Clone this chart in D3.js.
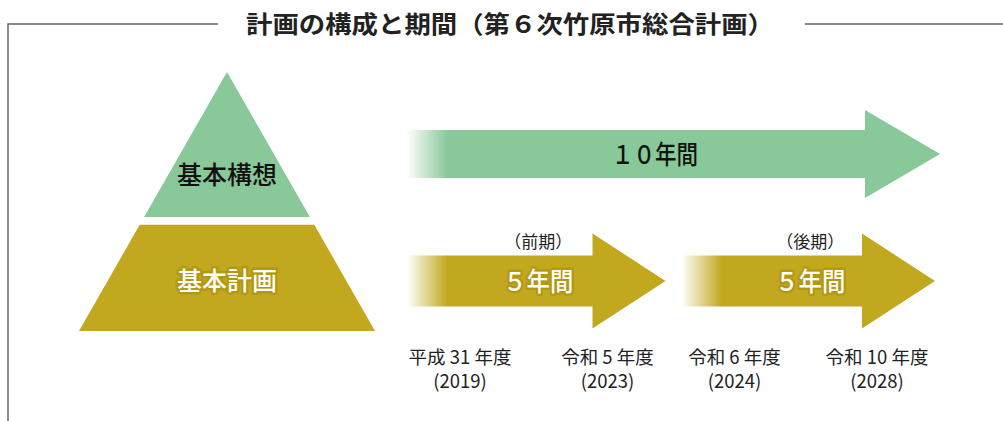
<!DOCTYPE html>
<html>
<head>
<meta charset="utf-8">
<script src="https://cdn.jsdelivr.net/npm/d3@7"></script>
<style>
  body { margin: 0; background: #fff; }
  text { font-family: "Noto Sans CJK JP", "Noto Sans", sans-serif; }
</style>
</head>
<body>
<div id="chart-area"></div>
<script>
// data
const title = "計画の構成と期間（第６次竹原市総合計画）"
const pyramidLabels = ["基本構想", "基本計画"]
const periodLabels = ["１０年間", "５年間", "５年間"]
const periodNotes = ["", "（前期）", "（後期）"]
const periodStart = [2019, 2019, 2024]
const periodEnd = [2029, 2024, 2029]
const yearTicks = [2019, 2023, 2024, 2028]
const yearNames = ["平成 31 年度", "令和 5 年度", "令和 6 年度", "令和 10 年度"]

const w = 1003
const h = 421
const green = "#88c899"
const gold = "#c2a81f"

const svg = d3.select("#chart-area")
  .append("svg")
  .attr("width", w)
  .attr("height", h)

const defs = svg.append("defs")
const fades = [["fadeGreen", green], ["fadeGold", gold]]
fades.forEach(f => {
  const g = defs.append("linearGradient").attr("id", f[0])
    .attr("x1", 0).attr("x2", 1).attr("y1", 0).attr("y2", 0)
  g.append("stop").attr("offset", 0).attr("stop-color", f[1]).attr("stop-opacity", 0)
  g.append("stop").attr("offset", 1).attr("stop-color", f[1]).attr("stop-opacity", 1)
})

// frame + title
svg.append("path")
  .attr("d", "M8,421 V24 H218 M805,24 H1003")
  .attr("fill", "none")
  .attr("stroke", "#666")
  .attr("stroke-width", 1.5)

svg.append("text")
  .attr("x", 510).attr("y", 33)
  .attr("text-anchor", "middle")
  .attr("font-size", 24)
  .attr("font-weight", "bold")
  .attr("fill", "#222")
  .attr("textLength", 528)
  .attr("lengthAdjust", "spacingAndGlyphs")
  .text(title)

// pyramid
const py = d3.scaleLinear().domain([0, 1]).range([72, 331])
const px = d3.scaleLinear().domain([0, 1]).range([0, 148])
const cx = 227
const cut1 = 0.56, cut2 = 0.59
const pyr = svg.append("g")
pyr.append("path")
  .attr("d", d3.line()([[cx, py(0)], [cx + px(cut1), py(cut1)], [cx - px(cut1), py(cut1)]]) + "Z")
  .attr("fill", green)
pyr.append("path")
  .attr("d", d3.line()([[cx - px(cut2), py(cut2)], [cx + px(cut2), py(cut2)], [cx + px(1), py(1)], [cx - px(1), py(1)]]) + "Z")
  .attr("fill", gold)

pyr.selectAll("text")
  .data(pyramidLabels)
  .enter()
  .append("text")
  .attr("x", cx)
  .attr("y", (d, i) => i == 0 ? 184 : 290)
  .attr("text-anchor", "middle")
  .attr("font-size", 25)
  .attr("font-weight", 500)
  .attr("fill", (d, i) => i == 0 ? "#111" : "#fff")
  .attr("stroke", (d, i) => i == 0 ? "none" : "#b39812")
  .attr("stroke-width", 5)
  .attr("stroke-linejoin", "round")
  .attr("paint-order", "stroke")
  .text(d => d)

// arrows
const x = d3.scaleLinear().domain([2019, 2029]).range([407, 940])
const rowY = [154, 281]
const gap = 8

const arrows = svg.selectAll(".arrow")
  .data(periodLabels)
  .enter()
  .append("g")
  .attr("class", "arrow")

function arrowGeom(i) {
  const x0 = x(periodStart[i]) + (periodStart[i] > 2019 ? gap : 0)
  const x1 = x(periodEnd[i]) - (periodEnd[i] < 2029 ? gap : (i == 0 ? 0 : 5))
  const y = i == 0 ? rowY[0] : rowY[1]
  const bh = i == 0 ? 24 : 25.5
  const hh = i == 0 ? 44 : 47.5
  const hl = i == 0 ? 75 : 73
  return { x0, x1, y, bh, hh, hl }
}

arrows.append("path")
  .attr("d", (d, i) => {
    const a = arrowGeom(i)
    const fx = a.x0 + 40
    return d3.line()([[fx, a.y - a.bh], [a.x1 - a.hl, a.y - a.bh], [a.x1 - a.hl, a.y - a.hh], [a.x1, a.y],
      [a.x1 - a.hl, a.y + a.hh], [a.x1 - a.hl, a.y + a.bh], [fx, a.y + a.bh]]) + "Z"
  })
  .attr("fill", (d, i) => i == 0 ? green : gold)

arrows.append("rect")
  .attr("x", (d, i) => arrowGeom(i).x0)
  .attr("y", (d, i) => arrowGeom(i).y - arrowGeom(i).bh)
  .attr("width", 40.5)
  .attr("height", (d, i) => arrowGeom(i).bh * 2)
  .attr("fill", (d, i) => i == 0 ? "url(#fadeGreen)" : "url(#fadeGold)")

arrows.append("text")
  .attr("x", (d, i) => i == 0 ? 655 : (arrowGeom(i).x0 + arrowGeom(i).x1) / 2 + 2)
  .attr("y", (d, i) => arrowGeom(i).y + 10)
  .attr("text-anchor", "middle")
  .attr("font-size", 26)
  .attr("font-weight", 500)
  .attr("textLength", (d, i) => i == 0 ? 86 : 70)
  .attr("lengthAdjust", "spacingAndGlyphs")
  .attr("fill", (d, i) => i == 0 ? "#111" : "#fff")
  .attr("stroke", (d, i) => i == 0 ? "none" : "#b39812")
  .attr("stroke-width", 5)
  .attr("stroke-linejoin", "round")
  .attr("paint-order", "stroke")
  .text(d => d)

arrows.append("text")
  .attr("x", (d, i) => (arrowGeom(i).x0 + arrowGeom(i).x1) / 2 + 2)
  .attr("y", 248)
  .attr("text-anchor", "middle")
  .attr("font-size", 17)
  .attr("fill", "#222")
  .text((d, i) => periodNotes[i])

// year labels
const labelX = yearTicks.map((yr, i) => {
  const a = arrowGeom(i < 2 ? 1 : 2)
  return i % 2 == 0 ? a.x0 + 53 : a.x1 - 58
})

svg.selectAll(".year-name")
  .data(yearNames)
  .enter()
  .append("text")
  .attr("class", "year-name")
  .attr("x", (d, i) => labelX[i])
  .attr("y", 364)
  .attr("text-anchor", "middle")
  .attr("font-size", 18.5)
  .attr("fill", "#222")
  .text(d => d)

svg.selectAll(".year-num")
  .data(yearTicks)
  .enter()
  .append("text")
  .attr("class", "year-num")
  .attr("x", (d, i) => labelX[i])
  .attr("y", 388)
  .attr("text-anchor", "middle")
  .attr("font-size", 18.5)
  .attr("fill", "#222")
  .text(d => "(" + d + ")")
</script>
</body>
</html>
